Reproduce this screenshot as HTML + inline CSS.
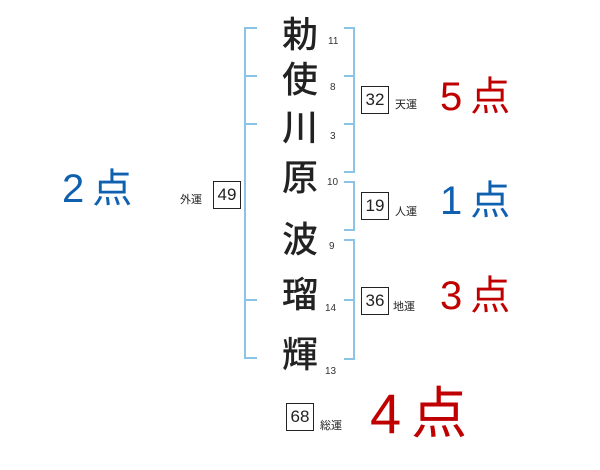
<!DOCTYPE html>
<html><head><meta charset="utf-8"><style>
body{margin:0;width:600px;height:470px;background:#fff;position:relative;overflow:hidden;font-family:"Liberation Sans","Noto Sans CJK JP",sans-serif}
.a{position:absolute;white-space:nowrap}
.k{font-size:36px;color:#222;left:282px;line-height:40px;font-weight:500}
.n{font-size:10px;color:#333}
.b{position:absolute;border:1px solid #222;width:26px;height:26px;font-size:17px;line-height:26px;text-align:center;color:#222}
.l{font-size:11px;color:#222}
.s{font-size:40px;line-height:44px;letter-spacing:8px}
.r{color:#c00000}.u{color:#1060b0}
</style></head><body>
<svg class="a" style="left:0;top:0" width="600" height="470">
<g stroke="#8cc4e6" stroke-width="2" fill="none">
<path d="M257 28H245V358H257M245 76H257M245 124H257M245 300H257"/>
<path d="M344 28H354V172H344M344 76H354M344 124H354"/>
<path d="M344 182H354V230H344"/>
<path d="M344 240H354V359H344M344 300H354"/>
</g></svg>
<div class="a k" style="top:15px">勅</div>
<div class="a k" style="top:60px">使</div>
<div class="a k" style="top:108px">川</div>
<div class="a k" style="top:158px">原</div>
<div class="a k" style="top:220px">波</div>
<div class="a k" style="top:275px">瑠</div>
<div class="a k" style="top:335px">輝</div>
<div class="a n" style="left:328px;top:36px">11</div>
<div class="a n" style="left:330px;top:82px">8</div>
<div class="a n" style="left:330px;top:131px">3</div>
<div class="a n" style="left:327px;top:177px">10</div>
<div class="a n" style="left:329px;top:241px">9</div>
<div class="a n" style="left:325px;top:303px">14</div>
<div class="a n" style="left:325px;top:366px">13</div>
<div class="b" style="left:361px;top:86px">32</div>
<div class="b" style="left:361px;top:192px">19</div>
<div class="b" style="left:361px;top:287px">36</div>
<div class="b" style="left:213px;top:181px">49</div>
<div class="b" style="left:286px;top:403px">68</div>
<div class="a l" style="left:395px;top:96px">天運</div>
<div class="a l" style="left:395px;top:203px">人運</div>
<div class="a l" style="left:393px;top:298px">地運</div>
<div class="a l" style="left:180px;top:191px">外運</div>
<div class="a l" style="left:320px;top:417px">総運</div>
<div class="a s r" style="left:440px;top:75px">5点</div>
<div class="a s u" style="left:440px;top:179px">1点</div>
<div class="a s r" style="left:440px;top:274px">3点</div>
<div class="a s u" style="left:62px;top:167px">2点</div>
<div class="a r" style="left:370px;top:382px;font-size:56px;line-height:64px;letter-spacing:10px">4点</div>
</body></html>
